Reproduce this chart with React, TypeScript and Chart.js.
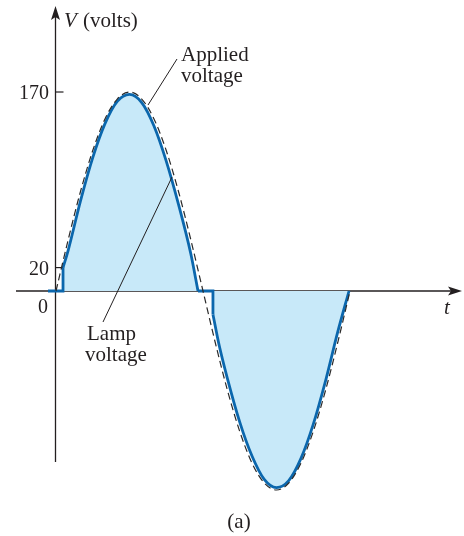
import React, { useEffect, useRef } from "react";
import { Chart, registerables } from "chart.js";

Chart.register(...registerables);

// Applied voltage (dashed sine), time in degrees
const appliedT = [0, 15, 30, 45, 60, 75, 90, 105, 120, 135, 150, 165, 180, 195, 210, 225, 240, 255, 270, 285, 300, 315, 330, 345, 360];
const appliedV = [0, 44, 85, 120, 147, 164, 170, 164, 147, 120, 85, 44, 0, -44, -85, -120, -147, -164, -170, -164, -147, -120, -85, -44, 0];

// Lamp voltage, positive half
const lampPosT = [8.6, 15, 30, 45, 60, 75, 90, 105, 120, 135, 150, 165, 173.9];
const lampPosV = [20, 35, 77, 114, 143, 162, 168, 161, 141, 111, 74, 32, 0];
// Lamp voltage, negative half
const lampNegT = [192.2, 200, 210, 225, 240, 255, 270, 285, 300, 315, 330, 345, 358.8];
const lampNegV = [-20, -47, -75, -112, -141, -161, -168, -162, -143, -114, -77, -35, 0];
// Lamp off (flat) segments with vertical jumps
const lampOffAT = [-9.8, 8.6, 8.6];
const lampOffAV = [0, 0, 20];
const lampOffBT = [173.9, 192.2, 192.2];
const lampOffBV = [0, 0, -20];

// Y tick labels
const yTickValues = [170, 20];
const yTickLabels = ["170", "20"];

const toPts = (t: number[], v: number[]) => t.map((x, i) => ({ x, y: v[i] }));

const INK = "#231f20";
const BLUE = "#0b67ad";
const FILL = "#c8e9f9";
const FONT = "21px 'Liberation Serif', 'Times New Roman', serif";
const NFONT = "20px 'Liberation Serif', 'Times New Roman', serif";
const IFONT = "italic 21px 'Liberation Serif', 'Times New Roman', serif";

const axesPlugin = {
  id: "axesPlugin",
  beforeDatasetsDraw(chart: any) {
    const ctx = chart.ctx;
    const xs = chart.scales.x;
    const ys = chart.scales.y;
    const x0 = xs.getPixelForValue(0);
    const y0 = ys.getPixelForValue(0);
    ctx.save();
    ctx.strokeStyle = INK;
    ctx.fillStyle = INK;
    ctx.lineWidth = 1.3;
    // x axis
    ctx.beginPath();
    ctx.moveTo(16, y0);
    ctx.lineTo(452, y0);
    ctx.stroke();
    ctx.beginPath();
    ctx.moveTo(462, y0);
    ctx.lineTo(448, y0 - 4.5);
    ctx.lineTo(451, y0);
    ctx.lineTo(448, y0 + 4.5);
    ctx.closePath();
    ctx.fill();
    // y axis
    ctx.beginPath();
    ctx.moveTo(x0 - 0.5, 462);
    ctx.lineTo(x0 - 0.5, 16);
    ctx.stroke();
    ctx.beginPath();
    ctx.moveTo(x0 - 0.5, 6);
    ctx.lineTo(x0 - 5, 20);
    ctx.lineTo(x0 - 0.5, 17);
    ctx.lineTo(x0 + 4, 20);
    ctx.closePath();
    ctx.fill();
    // ticks
    ctx.lineWidth = 1.2;
    yTickValues.forEach((v) => {
      const py = ys.getPixelForValue(v);
      ctx.beginPath();
      ctx.moveTo(x0 - 0.5, py);
      ctx.lineTo(x0 + 7.5, py);
      ctx.stroke();
    });
    ctx.restore();
  },
  afterDraw(chart: any) {
    const ctx = chart.ctx;
    const xs = chart.scales.x;
    const ys = chart.scales.y;
    const x0 = xs.getPixelForValue(0);
    const y0 = ys.getPixelForValue(0);
    ctx.save();
    ctx.fillStyle = INK;
    ctx.strokeStyle = INK;
    ctx.textBaseline = "alphabetic";
    ctx.font = NFONT;
    // tick labels
    ctx.textAlign = "right";
    yTickValues.forEach((v, i) => {
      ctx.fillText(yTickLabels[i], x0 - 7, ys.getPixelForValue(v) + 7);
    });
    ctx.fillText("0", x0 - 8, y0 + 22);
    // axis titles
    ctx.textAlign = "left";
    ctx.font = IFONT;
    ctx.fillText("V", x0 + 8, 27);
    ctx.font = FONT;
    ctx.fillText("(volts)", x0 + 27, 27);
    ctx.font = IFONT;
    ctx.fillText("t", 444, y0 + 23);
    // annotations
    ctx.font = FONT;
    ctx.fillText("Applied", 181, 61);
    ctx.fillText("voltage", 181, 82);
    ctx.fillText("Lamp", 87, 340);
    ctx.fillText("voltage", 85, 361);
    ctx.textAlign = "center";
    ctx.fillText("(a)", 239, 528);
    // leader lines
    ctx.lineWidth = 1;
    ctx.beginPath();
    ctx.moveTo(177, 59);
    ctx.lineTo(148, 105);
    ctx.stroke();
    ctx.beginPath();
    ctx.moveTo(172, 177);
    ctx.lineTo(103, 322);
    ctx.stroke();
    ctx.restore();
  },
};

export default function App() {
  const ref = useRef<HTMLCanvasElement | null>(null);
  useEffect(() => {
    document.body.style.margin = "0";
    const canvas = ref.current;
    if (!canvas) return;
    const straight = {
      borderColor: BLUE,
      borderWidth: 2.8,
      pointRadius: 0,
      tension: 0,
      fill: false,
      order: 2,
    };
    const curve = {
      borderColor: BLUE,
      borderWidth: 2.8,
      pointRadius: 0,
      cubicInterpolationMode: "monotone",
      fill: "origin",
      backgroundColor: FILL,
      order: 3,
    };
    const chart = new Chart(canvas, {
      type: "line",
      data: {
        datasets: [
          {
            label: "Applied voltage",
            data: toPts(appliedT, appliedV),
            borderColor: "#2a2a2a",
            borderWidth: 1.2,
            borderDash: [7, 4],
            pointRadius: 0,
            cubicInterpolationMode: "monotone",
            fill: false,
            order: 0,
          } as any,
          { label: "Lamp +", data: toPts(lampPosT, lampPosV), ...curve } as any,
          { label: "Lamp -", data: toPts(lampNegT, lampNegV), ...curve } as any,
          { label: "Lamp off A", data: toPts(lampOffAT, lampOffAV), ...straight } as any,
          { label: "Lamp off B", data: toPts(lampOffBT, lampOffBV), ...straight } as any,
        ],
      },
      options: {
        responsive: false,
        animation: false,
        devicePixelRatio: 1,
        layout: { padding: 0 },
        plugins: { legend: { display: false }, tooltip: { enabled: false } },
        scales: {
          x: { type: "linear", min: -68.57, max: 499.6, display: false },
          y: { type: "linear", min: -209.3, max: 248.6, display: false },
        },
      } as any,
      plugins: [axesPlugin],
    });
    return () => chart.destroy();
  }, []);
  return (
    <div style={{ width: 464, height: 536, background: "#fff" }}>
      <canvas ref={ref} width={464} height={536} />
    </div>
  );
}
